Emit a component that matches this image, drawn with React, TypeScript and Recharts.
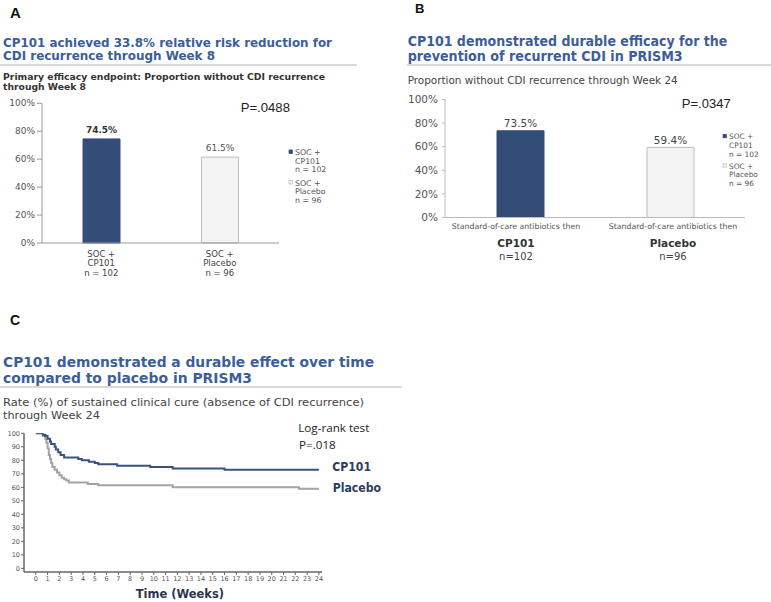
import React from 'react'
import { BarChart, Bar, XAxis, YAxis, Cell, LabelList, LineChart, Line } from 'recharts'

// panel A / B bar values
const arms = ['CP101', 'Placebo']
const week8Rate = [74.5, 61.5]
const week24Rate = [73.5, 59.4]
const pctTicks = [0, 20, 40, 60, 80, 100]
const tickLinesA = [
  ['SOC +', 'CP101', 'n = 102'],
  ['SOC +', 'Placebo', 'n = 96'],
]
const tickLinesB = [
  ['Standard-of-care antibiotics then', 'CP101', 'n=102'],
  ['Standard-of-care antibiotics then', 'Placebo', 'n=96'],
]
const legendLines = [
  ['SOC +', 'CP101', 'n = 102'],
  ['SOC +', 'Placebo', 'n = 96'],
]

// panel C Kaplan-Meier steps
const weekTicks = [0, 1, 2, 3, 4, 5, 6, 7, 8, 9, 10, 11, 12, 13, 14, 15, 16, 17, 18, 19, 20, 21, 22, 23, 24]
const cureTicks = [0, 10, 20, 30, 40, 50, 60, 70, 80, 90, 100]
const cp101Weeks = [0, 0.6, 0.8, 1.0, 1.2, 1.3, 1.6, 1.7, 1.9, 2.1, 2.4, 3.6, 3.9, 4.5, 5.0, 5.3, 6.9, 9.7, 11.6, 16.0, 24]
const cp101Rate = [100, 99, 98, 96, 94, 92, 90, 88, 86, 84, 82, 81, 80, 79, 78, 77, 76, 75, 74, 73, 73]
const placeboWeeks = [0, 0.6, 0.8, 0.9, 1.0, 1.1, 1.2, 1.3, 1.4, 1.6, 1.8, 2.0, 2.2, 2.4, 2.6, 2.8, 4.4, 5.3, 11.6, 22.3, 24]
const placeboRate = [100, 98, 96, 93, 89, 84, 81, 78, 75, 73, 71, 69, 67, 66, 65, 63.5, 62.5, 61.5, 60, 59, 59]

const NAVY = '#344c78'
const TITLE = '#3b5e9b'
const VERDANA = 'DejaVu Sans, Verdana, sans-serif'
const ARIAL = 'Liberation Sans, Arial, sans-serif'

const dataA = arms.map((arm, i) => ({ arm, value: week8Rate[i] }))
const dataB = arms.map((arm, i) => ({ arm, value: week24Rate[i] }))
const cp101Data = cp101Weeks.map((week, i) => ({ week, rate: cp101Rate[i] }))
const placeboData = placeboWeeks.map((week, i) => ({ week, rate: placeboRate[i] }))

const fills = [NAVY, '#f3f3f3']
const strokes = [NAVY, '#bdbdbd']

function T(props: any) {
  const { x, y, s, w, c, f, len, anchor, children } = props
  return (
    <text
      x={x}
      y={y}
      fontSize={s}
      fontWeight={w || 'normal'}
      fill={c || '#333'}
      fontFamily={f || VERDANA}
      textAnchor={anchor || 'start'}
      textLength={len}
      lengthAdjust={len ? 'spacingAndGlyphs' : undefined}
    >
      {children}
    </text>
  )
}

function TickA(props: any) {
  const { x, y, payload } = props
  const lines = tickLinesA[payload.index] || []
  return (
    <text x={x} textAnchor="middle" fontSize={8.5} fill="#444" fontFamily={VERDANA}>
      {lines.map((l, i) => (
        <tspan key={i} x={x} y={y + 13.7 + i * 9.7}>{l}</tspan>
      ))}
    </text>
  )
}

function TickB(props: any) {
  const { x, y, payload } = props
  const lines = tickLinesB[payload.index] || []
  const dx = payload.index === 0 ? -4 : 3
  return (
    <g>
      <text x={x + dx} y={y + 11.8} textAnchor="middle" fontSize={7.8} fill="#555" fontFamily={VERDANA}>{lines[0]}</text>
      <text x={x + dx} y={y + 29.2} textAnchor="middle" fontSize={10.5} fontWeight="bold" fill="#333" fontFamily={VERDANA}>{lines[1]}</text>
      <text x={x + dx} y={y + 42.5} textAnchor="middle" fontSize={10} fill="#444" fontFamily={VERDANA}>{lines[2]}</text>
    </g>
  )
}

function Legend(props: any) {
  const { x, ys, s, gap } = props
  return (
    <g>
      {legendLines.map((lines, k) => (
        <g key={k}>
          <rect x={x - 6} y={ys[k] - 5} width={3.5} height={3.5} fill={fills[k]} stroke={strokes[k]} strokeWidth={0.7} />
          {lines.map((l, i) => (
            <T key={i} x={x} y={ys[k] + i * gap} s={s} c="#555">{l}</T>
          ))}
        </g>
      ))}
    </g>
  )
}

export default function App() {
  return (
    <div style={{ position: 'absolute', left: 0, top: 0, width: 771, height: 602, background: '#fff', overflow: 'hidden' }}>
      {/* Panel A */}
      <div style={{ position: 'absolute', left: 0, top: 0 }}>
        <BarChart width={385} height={290} data={dataA} margin={{ top: 103.3, right: 106, bottom: 7, left: 12 }} barSize={37}>
          <XAxis dataKey="arm" height={40} tickSize={0} tickMargin={0} axisLine={{ stroke: '#999' }} tickLine={false} tick={(p: any) => <TickA {...p} />} interval={0} />
          <YAxis
            width={30}
            domain={[0, 100]}
            ticks={pctTicks}
            tickFormatter={(v) => `${v}%`}
            tickSize={5}
            tickMargin={2}
            axisLine={{ stroke: '#999' }}
            tickLine={{ stroke: '#999' }}
            tick={{ fontSize: 9, fill: '#555', fontFamily: VERDANA }}
          />
          <Bar dataKey="value" isAnimationActive={false}>
            {dataA.map((d, i) => (
              <Cell key={d.arm} fill={fills[i]} stroke={strokes[i]} strokeWidth={1} />
            ))}
            <LabelList
              dataKey="value"
              content={(p: any) => (
                <text
                  x={p.x + p.width / 2}
                  y={p.y - 5.6}
                  textAnchor="middle"
                  fontSize={9}
                  fontWeight={p.index === 0 ? 'bold' : 'normal'}
                  fill={p.index === 0 ? '#333' : '#555'}
                  fontFamily={VERDANA}
                >
                  {`${p.value}%`}
                </text>
              )}
            />
          </Bar>
        </BarChart>
      </div>

      {/* Panel B */}
      <div style={{ position: 'absolute', left: 385, top: 0 }}>
        <BarChart width={386} height={280} data={dataB} margin={{ top: 99.5, right: 26, bottom: 12.5, left: 20 }} barSize={47}>
          <XAxis dataKey="arm" height={50} tickSize={0} tickMargin={0} axisLine={{ stroke: '#bbb' }} tickLine={false} tick={(p: any) => <TickB {...p} />} interval={0} />
          <YAxis
            width={40}
            domain={[0, 100]}
            ticks={pctTicks}
            tickFormatter={(v) => `${v}%`}
            tickSize={3}
            tickMargin={4}
            axisLine={{ stroke: '#bbb' }}
            tickLine={{ stroke: '#bbb' }}
            tick={{ fontSize: 10.5, fill: '#555', fontFamily: VERDANA }}
          />
          <Bar dataKey="value" isAnimationActive={false}>
            {dataB.map((d, i) => (
              <Cell key={d.arm} fill={fills[i]} stroke={strokes[i]} strokeWidth={1} />
            ))}
            <LabelList
              dataKey="value"
              content={(p: any) => (
                <text x={p.x + p.width / 2} y={p.y - 3.5} textAnchor="middle" fontSize={10.5} fill="#444" fontFamily={VERDANA}>
                  {`${p.value}%`}
                </text>
              )}
            />
          </Bar>
        </BarChart>
      </div>

      {/* Panel C */}
      <div style={{ position: 'absolute', left: 0, top: 420 }}>
        <LineChart width={400} height={182} margin={{ top: 13.3, right: 78, bottom: 8, left: 4 }}>
          <XAxis
            type="number"
            dataKey="week"
            domain={[-1, 24.26]}
            ticks={weekTicks}
            interval={0}
            allowDataOverflow
            height={22}
            tickSize={3}
            tickMargin={1}
            axisLine={{ stroke: '#666', strokeWidth: 1.5 }}
            tickLine={{ stroke: '#666' }}
            tick={{ fontSize: 6.5, fill: '#555', fontFamily: VERDANA }}
          />
          <YAxis
            type="number"
            domain={[-2.7, 100]}
            ticks={cureTicks}
            interval={0}
            allowDataOverflow
            width={20}
            tickSize={3}
            tickMargin={1}
            axisLine={{ stroke: '#666', strokeWidth: 1.5 }}
            tickLine={{ stroke: '#666' }}
            tick={{ fontSize: 6.5, fill: '#555', fontFamily: VERDANA }}
          />
          <Line data={placeboData} dataKey="rate" type="stepAfter" stroke="#a3a3a3" strokeWidth={2} dot={false} isAnimationActive={false} />
          <Line data={cp101Data} dataKey="rate" type="stepAfter" stroke="#3a5282" strokeWidth={2} dot={false} isAnimationActive={false} />
        </LineChart>
      </div>

      {/* free text */}
      <svg width={771} height={602} style={{ position: 'absolute', left: 0, top: 0, pointerEvents: 'none' }}>
        <T x={10} y={18.3} s={15} w="bold" c="#111" f={ARIAL}>A</T>
        <T x={3} y={47.3} s={11.6} w="bold" c={TITLE} len={329}>CP101 achieved 33.8% relative risk reduction for</T>
        <T x={3} y={60} s={11.6} w="bold" c={TITLE} len={212}>CDI recurrence through Week 8</T>
        <line x1={0} y1={65} x2={357} y2={65} stroke="#b5b5b5" strokeWidth={1} />
        <T x={3} y={80} s={9} w="bold" c="#333" len={322}>Primary efficacy endpoint: Proportion without CDI recurrence</T>
        <T x={3} y={90} s={9} w="bold" c="#333" len={83}>through Week 8</T>
        <T x={240.7} y={111.7} s={12.5} c="#222" f={ARIAL} len={49.3}>P=.0488</T>
        <Legend x={295} ys={[155, 185.5]} s={7.8} gap={8.7} />

        <T x={415} y={13.3} s={13} w="bold" c="#111" f={ARIAL}>B</T>
        <T x={407.7} y={46} s={13.7} w="bold" c={TITLE} len={319.6}>CP101 demonstrated durable efficacy for the</T>
        <T x={407.7} y={61} s={13.7} w="bold" c={TITLE} len={275}>prevention of recurrent CDI in PRISM3</T>
        <line x1={407} y1={65} x2={771} y2={65} stroke="#b5b5b5" strokeWidth={1} />
        <T x={407.7} y={84} s={10} c="#444" len={270}>Proportion without CDI recurrence through Week 24</T>
        <T x={681.7} y={108.3} s={12.5} c="#222" f={ARIAL} len={49}>P=.0347</T>
        <Legend x={729} ys={[139.3, 168.7]} s={7.4} gap={8.7} />

        <T x={10} y={325} s={14} w="bold" c="#111" f={ARIAL}>C</T>
        <T x={3} y={366.7} s={13.2} w="bold" c={TITLE} len={371}>CP101 demonstrated a durable effect over time</T>
        <T x={3} y={382.7} s={13.2} w="bold" c={TITLE} len={249}>compared to placebo in PRISM3</T>
        <line x1={0} y1={387} x2={402} y2={387} stroke="#b5b5b5" strokeWidth={1} />
        <T x={3} y={406} s={10} c="#444" len={361}>Rate (%) of sustained clinical cure (absence of CDI recurrence)</T>
        <T x={3} y={419.3} s={10} c="#444" len={97}>through Week 24</T>
        <T x={298.3} y={432.3} s={11.5} c="#222" f="Open Sans, sans-serif" len={71}>Log-rank test</T>
        <T x={299} y={449} s={11.5} c="#222" f="Open Sans, sans-serif" len={36.7}>P=.018</T>
        <T x={332.3} y={471} s={12} w="bold" c="#2b3d5e" len={38.7}>CP101</T>
        <T x={332.7} y={492.3} s={12} w="bold" c="#2b3d5e" len={48.3}>Placebo</T>
        <T x={135.7} y={598.3} s={12} w="bold" c="#2b3550" len={88.3}>Time (Weeks)</T>
      </svg>
    </div>
  )
}
